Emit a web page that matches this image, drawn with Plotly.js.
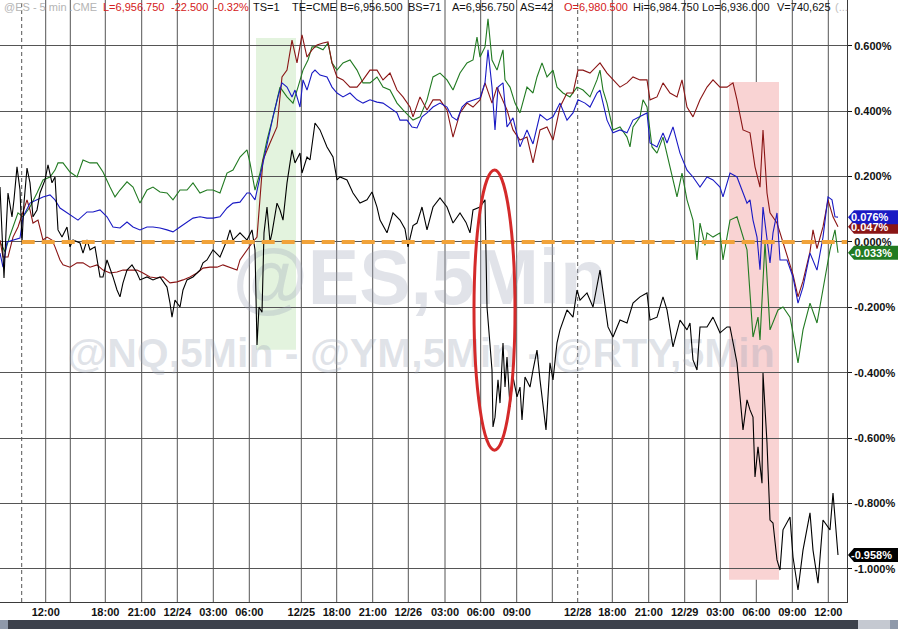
<!DOCTYPE html>
<html><head><meta charset="utf-8">
<script src="https://cdn.plot.ly/plotly-3.0.1.min.js"></script>
<style>html,body{margin:0;padding:0;background:#fff;}#chart{width:898px;height:629px;}</style>
</head><body><div id="chart"></div>
<script>
// ---- data (bar index along the session axis, % change) ----
const esX=[0,2,4,6,8,12,14,17,20,22,24,27,30,33,37,40,45,48,52,55,58,62,67,70,73,80,83,87,90,95,100,103,107,113,117,120,123,127,132,137,140,147,153,160,167,170,172,175,180,183,187,193,200,203,207,213,220,227,230,233,240,247,252,255,257,259,262,264,267,270,272,277,280,283,287,292,295,300,302,307,310,315,320,327,333,337,340,347,353,360,367,372,377,380,387,393,400,405,408,413,417,422,427,433,440,447,453,460,466,470,473,480,485,487,490,492,493,495,498,500,503,505,507,510,513,517,520,522,525,530,533,537,540,546,550,553,557,560,567,573,577,580,587,593,600,605,608,613,620,627,633,640,647,650,657,663,667,673,680,687,690,693,697,700,707,713,720,727,730,737,743,747,750,753,755,758,762,763,767,770,773,777,780,783,790,793,798,803,810,813,818,823,830,833,835,838];
const esY=[0.168,0.05,-0.110,0.03,0.150,0.077,0.13,0.230,0.159,0.0,0.12,0.226,0.181,0.077,0.098,0.150,0.190,0.236,0.181,0.199,0.037,0.015,0.046,-0.015,0.006,-0.003,-0.034,0.006,-0.024,-0.015,-0.107,-0.107,-0.055,-0.107,-0.147,-0.168,-0.125,-0.086,-0.070,-0.095,-0.116,-0.107,-0.116,-0.107,-0.138,-0.187,-0.230,-0.178,-0.199,-0.147,-0.116,-0.107,-0.086,-0.064,-0.055,-0.024,-0.046,0.006,0.037,0.006,0.028,0.006,0.037,-0.024,-0.315,-0.199,-0.215,0.028,0.107,0.0,0.028,0.119,0.098,0.067,0.181,0.282,0.242,0.272,0.211,0.260,0.251,0.364,0.343,0.291,0.260,0.190,0.199,0.190,0.150,0.119,0.129,0.153,0.107,0.067,0.028,0.089,0.067,0.040,-0.015,0.050,0.058,0.107,0.037,0.107,0.135,0.107,0.058,0.089,0.060,0.028,0.098,0.107,0.129,-0.199,-0.300,-0.392,-0.566,-0.536,-0.422,-0.493,-0.309,-0.444,-0.352,-0.505,-0.413,-0.474,-0.444,-0.545,-0.413,-0.444,-0.392,-0.331,-0.422,-0.575,-0.370,-0.422,-0.309,-0.269,-0.208,-0.230,-0.147,-0.178,-0.156,-0.199,-0.086,-0.187,-0.260,-0.291,-0.239,-0.248,-0.187,-0.168,-0.156,-0.239,-0.230,-0.168,-0.208,-0.321,-0.239,-0.269,-0.248,-0.361,-0.392,-0.260,-0.260,-0.230,-0.278,-0.260,-0.260,-0.370,-0.575,-0.483,-0.514,-0.536,-0.719,-0.627,-0.738,-0.401,-0.615,-0.851,-0.860,-0.973,-1.004,-0.881,-0.842,-0.964,-1.065,-0.943,-0.829,-0.943,-1.044,-0.851,-0.881,-0.768,-0.842,-0.958];

const nqX=[0,3,7,13,20,23,30,37,43,50,55,60,67,73,78,87,93,100,107,113,120,127,133,140,147,153,160,167,173,180,187,193,200,207,213,220,227,233,240,247,250,255,260,267,273,278,282,287,292,295,300,303,307,312,315,320,327,332,337,343,350,357,363,370,377,383,390,397,400,407,412,417,422,427,433,440,447,452,457,462,467,473,480,485,488,492,495,498,503,507,513,520,527,533,540,547,553,560,567,573,578,585,590,597,600,607,613,620,627,633,640,647,650,657,663,667,673,680,687,693,700,707,713,720,723,730,737,743,747,750,753,757,760,763,767,770,773,777,780,787,793,798,803,810,817,823,828,832,835,838];
const nqY=[-0.034,-0.077,0.0,0.006,0.012,0.077,0.119,0.129,0.138,0.144,0.129,0.104,0.089,0.077,0.067,0.092,0.092,0.098,0.077,0.046,0.043,0.061,0.046,0.037,0.046,0.046,0.043,0.037,0.031,0.046,0.061,0.073,0.077,0.073,0.073,0.077,0.104,0.119,0.122,0.150,0.150,0.129,0.199,0.303,0.383,0.444,0.487,0.474,0.444,0.465,0.413,0.496,0.465,0.517,0.526,0.511,0.505,0.474,0.456,0.444,0.456,0.435,0.425,0.435,0.428,0.425,0.410,0.395,0.373,0.373,0.352,0.349,0.383,0.395,0.413,0.425,0.413,0.383,0.373,0.413,0.428,0.435,0.441,0.487,0.588,0.474,0.343,0.474,0.487,0.352,0.380,0.291,0.343,0.300,0.390,0.373,0.383,0.425,0.373,0.395,0.435,0.425,0.413,0.456,0.465,0.373,0.334,0.343,0.334,0.373,0.383,0.395,0.303,0.291,0.334,0.303,0.352,0.272,0.220,0.199,0.168,0.199,0.190,0.168,0.138,0.211,0.199,0.150,0.119,0.129,0.067,0.015,-0.085,0.107,0.015,-0.064,0.028,0.089,-0.055,-0.055,-0.107,-0.187,-0.138,-0.034,-0.086,0.015,0.138,0.129,0.077,0.076];

const ymX=[0,3,8,13,18,23,27,30,33,38,43,47,52,55,60,63,70,77,83,90,97,103,110,117,123,130,137,143,150,157,163,170,177,183,190,197,203,210,217,223,230,237,240,247,252,257,263,270,277,282,287,292,297,302,307,312,317,323,328,332,337,343,350,357,363,370,377,383,390,397,403,410,413,420,427,433,440,447,453,460,467,473,480,485,492,497,503,507,513,520,527,533,540,547,553,560,567,573,578,583,590,600,607,613,620,627,633,640,647,650,657,663,670,677,682,687,693,700,707,713,720,727,733,737,743,750,755,760,763,767,770,777,780,787,793,798,803,810,813,817,823,828,833,838];
const ymY=[0.006,-0.046,-0.046,0.015,0.046,0.089,0.129,0.098,0.058,0.067,0.006,0.015,0.006,-0.015,-0.055,-0.070,-0.077,-0.064,-0.064,-0.077,-0.070,-0.086,-0.095,-0.092,-0.086,-0.086,-0.086,-0.095,-0.107,-0.110,-0.107,-0.125,-0.122,-0.116,-0.107,-0.095,-0.080,-0.077,-0.077,-0.070,-0.077,-0.086,-0.055,-0.024,-0.003,0.015,0.251,0.303,0.352,0.505,0.526,0.618,0.548,0.634,0.566,0.588,0.603,0.609,0.612,0.548,0.505,0.496,0.474,0.474,0.496,0.526,0.526,0.496,0.517,0.465,0.444,0.413,0.383,0.444,0.404,0.435,0.435,0.404,0.321,0.395,0.425,0.413,0.435,0.487,0.425,0.474,0.435,0.404,0.343,0.312,0.321,0.242,0.343,0.352,0.312,0.413,0.456,0.456,0.526,0.526,0.517,0.548,0.517,0.496,0.474,0.487,0.505,0.496,0.496,0.435,0.444,0.487,0.456,0.444,0.496,0.413,0.383,0.435,0.474,0.496,0.474,0.474,0.487,0.435,0.343,0.334,0.230,0.168,0.343,0.150,0.089,0.058,0.028,-0.040,-0.100,-0.168,-0.120,-0.030,0.037,-0.020,0.046,0.129,0.077,0.047];

const rtyX=[0,5,10,13,18,23,30,37,43,50,55,58,63,70,77,83,90,97,103,110,115,120,127,133,140,147,153,160,167,173,180,187,193,200,207,213,220,227,233,240,247,250,255,260,267,273,280,287,293,298,303,308,312,317,323,328,332,337,343,350,357,363,370,377,383,390,397,403,410,413,420,427,433,440,447,453,460,467,473,477,480,485,488,492,497,503,505,510,515,520,527,533,537,542,547,553,557,563,570,577,583,590,597,600,603,607,613,620,627,630,633,640,643,647,652,657,663,670,677,682,687,693,697,700,705,707,713,720,723,727,730,737,743,747,753,758,760,765,770,778,783,790,793,798,803,810,817,823,830,835,838];
const rtyY=[0.0,-0.030,0.020,0.046,0.089,0.077,0.107,0.150,0.190,0.199,0.220,0.242,0.242,0.214,0.199,0.251,0.242,0.242,0.214,0.168,0.138,0.159,0.184,0.168,0.119,0.159,0.168,0.153,0.150,0.129,0.159,0.159,0.181,0.150,0.159,0.159,0.150,0.211,0.220,0.260,0.282,0.242,0.159,0.211,0.312,0.383,0.474,0.444,0.425,0.474,0.526,0.557,0.597,0.597,0.588,0.609,0.548,0.526,0.548,0.557,0.526,0.487,0.487,0.505,0.474,0.465,0.425,0.404,0.383,0.373,0.383,0.435,0.505,0.517,0.496,0.465,0.517,0.548,0.557,0.627,0.566,0.597,0.683,0.557,0.526,0.588,0.496,0.474,0.425,0.395,0.474,0.456,0.505,0.548,0.505,0.526,0.474,0.456,0.444,0.474,0.465,0.444,0.496,0.526,0.465,0.425,0.343,0.352,0.321,0.291,0.352,0.383,0.435,0.413,0.291,0.272,0.321,0.230,0.138,0.211,0.129,0.067,-0.055,0.058,-0.010,0.028,0.015,0.028,-0.055,0.015,0.067,0.077,0.015,-0.024,-0.291,-0.230,-0.300,0.000,-0.269,-0.208,-0.199,-0.230,-0.278,-0.370,-0.269,-0.187,-0.248,-0.147,-0.024,0.037,-0.033];

// axis ticks
const gridX=[21.7,45.7,70.3,105.3,141.7,177.3,213.3,249.3,301.3,336.7,372.7,408.3,445,480.7,516.7,552.3,577.7,612.3,648.7,684.7,720.3,756.3,792.3,828.3];
const dashedGridX=[21.7,577.7];
const tickVals=[45.7,105.3,141.7,177.3,213.3,249.3,301.3,336.7,372.7,408.3,445,480.7,516.7,577.7,612.3,648.7,684.7,720.3,756.3,792.3,828.3];
const tickText=['12:00','18:00','21:00','12/24','03:00','06:00','12/25','18:00','21:00','12/26','03:00','06:00','09:00','12/28','18:00','21:00','12/29','03:00','06:00','09:00','12:00'];
const yTickVals=[-1.0,-0.8,-0.6,-0.4,-0.2,0.0,0.2,0.4,0.6];

// header strip
const headerText=['@ES - 5 min .CME','L=6,956.750','-22.500','-0.32%','TS=1','TE=CME','B=6,956.500','BS=71','A=6,956.750','AS=42','O=6,980.500','Hi=6,984.750','Lo=6,936.000','V=740,625','(...'];
const headerX=[2,101,169,212,251,290,338,406,450,518,562,631,700,775,833];
const headerColor=['#b4b4b4','#d42020','#d42020','#d42020','#111','#111','#111','#111','#111','#111','#d42020','#111','#111','#111','#c0c0c0'];

// highlight regions
const greenZoneX=[256,296], greenZoneY=[-0.330,0.624];
const pinkZoneX=[729,779], pinkZoneY=[-1.034,0.490];
const ovalX=[474,515], ovalY=[-0.637,0.220];

const FONT='"Liberation Sans", Arial, sans-serif';
const PW=847, PH=602;
const C={es:'#000000',nq:'#1a1ac4',ym:'#8a1515',rty:'#217a21'};

const traces=[
 {x:[420],y:[-0.132],mode:'text',text:['<b>@ES,5Min</b>'],textfont:{family:FONT,size:77,color:'rgba(158,166,184,0.31)'},hoverinfo:'skip',showlegend:false,cliponaxis:false},
 {x:[421],y:[-0.352],mode:'text',text:['<b>@NQ,5Min - @YM,5Min - @RTY,5Min</b>'],textfont:{family:FONT,size:41,color:'rgba(158,166,184,0.31)'},hoverinfo:'skip',showlegend:false,cliponaxis:false},
 {x:rtyX,y:rtyY,mode:'lines',line:{color:C.rty,width:1.1},hoverinfo:'skip'},
 {x:ymX,y:ymY,mode:'lines',line:{color:C.ym,width:1.1},hoverinfo:'skip'},
 {x:nqX,y:nqY,mode:'lines',line:{color:C.nq,width:1.1},hoverinfo:'skip'},
 {x:esX,y:esY,mode:'lines',line:{color:C.es,width:1.1},hoverinfo:'skip'}
];

const shapes=[];
shapes.push({type:'rect',xref:'x',yref:'y',x0:greenZoneX[0],x1:greenZoneX[1],y0:greenZoneY[0],y1:greenZoneY[1],fillcolor:'#e3f3de',line:{width:0},layer:'below'});
shapes.push({type:'rect',xref:'x',yref:'y',x0:pinkZoneX[0],x1:pinkZoneX[1],y0:pinkZoneY[0],y1:pinkZoneY[1],fillcolor:'#f9d3d3',line:{width:0},layer:'below'});
gridX.forEach(g=>{
  shapes.push({type:'line',xref:'x',yref:'paper',x0:g,x1:g,y0:0,y1:1,line:{color:'#555555',width:1,dash:dashedGridX.includes(g)?'4px,3px':'solid'},layer:'between'});
});
// zero reference line
shapes.push({type:'line',xref:'x',yref:'y',x0:dashedGridX[0],x1:PW,y0:0,y1:0,line:{color:'#f1a33a',width:4,dash:'13px,7px'},layer:'above'});
// oval
shapes.push({type:'circle',xref:'x',yref:'y',x0:ovalX[0],x1:ovalX[1],y0:ovalY[0],y1:ovalY[1],line:{color:'#d42a2a',width:3},layer:'above'});
// bottom scroll bar
const py=v=>v/PH, px=v=>v/PW;
shapes.push({type:'rect',xref:'paper',yref:'paper',x0:0,x1:px(8),y0:-py(27),y1:-py(18),fillcolor:'#8f99aa',line:{width:0}});
shapes.push({type:'rect',xref:'paper',yref:'paper',x0:px(8),x1:px(858),y0:-py(27),y1:-py(18),fillcolor:'#3c414b',line:{width:0}});
shapes.push({type:'rect',xref:'paper',yref:'paper',x0:px(858),x1:px(890),y0:-py(27),y1:-py(18),fillcolor:'#c5c9d1',line:{width:0}});
shapes.push({type:'rect',xref:'paper',yref:'paper',x0:px(890),x1:px(898),y0:-py(27),y1:-py(18),fillcolor:'#8f99aa',line:{width:0}});

// last-value tags
const annotations=[];
const tags=[
 {v:ymY[ymY.length-1],c:C.ym},
 {v:nqY[nqY.length-1],c:C.nq},
 {v:rtyY[rtyY.length-1],c:C.rty},
 {v:esY[esY.length-1],c:C.es}
];
tags.forEach(t=>{
  shapes.push({type:'path',xref:'paper',yref:'y',xsizemode:'pixel',ysizemode:'pixel',xanchor:1,yanchor:t.v,
    path:'M1,0 L7,7 L51,7 L51,-7 L7,-7 Z',fillcolor:t.c,line:{width:0},layer:'above'});
  annotations.push({xref:'paper',yref:'y',x:1,y:t.v,xanchor:'left',yanchor:'middle',xshift:2,showarrow:false,
    text:'<b>'+t.v.toFixed(3)+'%</b>',font:{family:FONT,size:11,color:'#ffffff'}});
});
headerText.forEach((t,i)=>{
  annotations.push({xref:'paper',yref:'paper',x:px(headerX[i]),y:1-py(7),xanchor:'left',yanchor:'middle',showarrow:false,
    text:t,font:{family:FONT,size:11,color:headerColor[i]}});
});

const layout={
  width:898,height:629,margin:{l:0,r:51,t:0,b:27,pad:0},
  paper_bgcolor:'#ffffff',plot_bgcolor:'#ffffff',showlegend:false,hovermode:false,
  xaxis:{range:[0,PW],showgrid:false,zeroline:false,showline:true,linecolor:'#3a3a3a',linewidth:1,
    tickmode:'array',tickvals:tickVals,ticktext:tickText.map(s=>'<b>'+s+'</b>'),ticks:'',
    tickfont:{family:FONT,size:11,color:'#111'},automargin:false,fixedrange:true},
  yaxis:{range:[-1.1018,0.7406],side:'right',showgrid:true,gridcolor:'#555555',gridwidth:1,zeroline:false,
    showline:true,linecolor:'#3a3a3a',linewidth:1,ticks:'outside',ticklen:4,tickcolor:'#111',
    tickmode:'array',tickvals:yTickVals,ticktext:yTickVals.map(v=>'<b>'+v.toFixed(3)+'%</b>'),
    tickfont:{family:FONT,size:11,color:'#111'},automargin:false,fixedrange:true},
  shapes:shapes,annotations:annotations
};
Plotly.newPlot('chart',traces,layout,{displayModeBar:false,staticPlot:true});
</script></body></html>
